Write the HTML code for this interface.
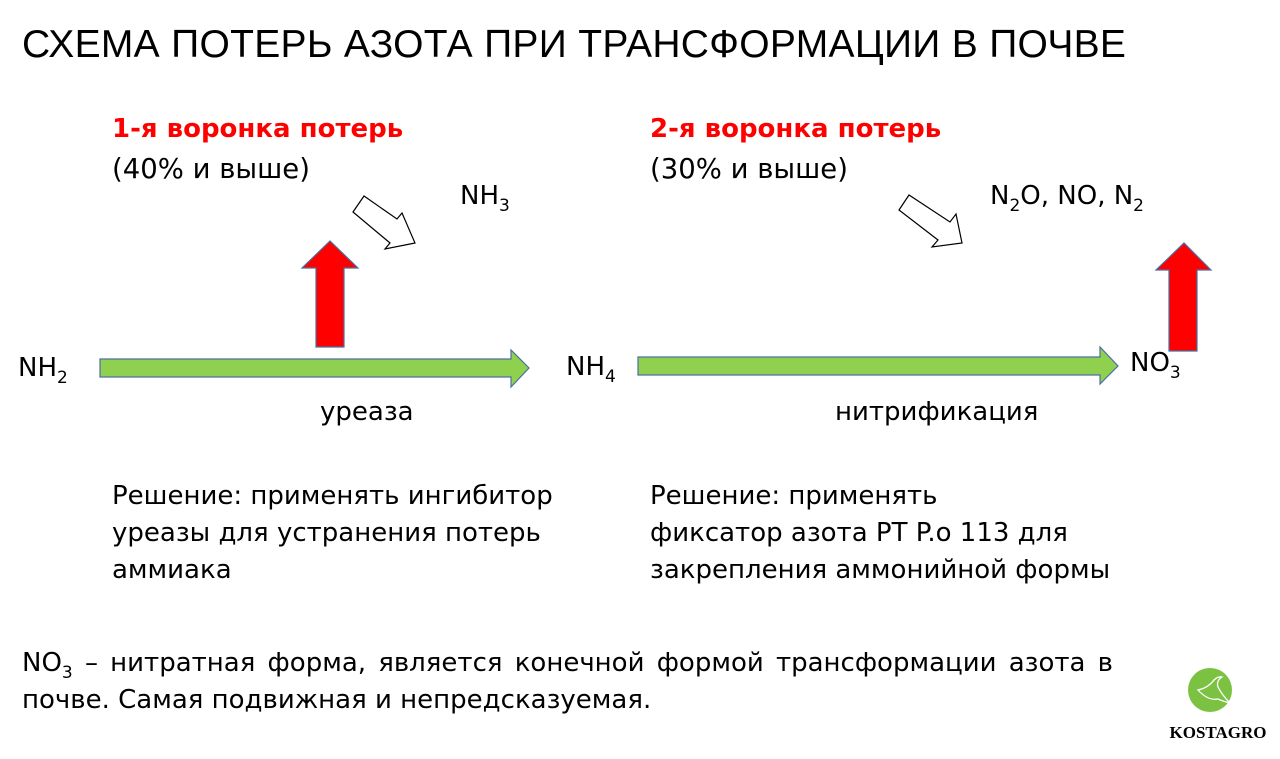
<!DOCTYPE html>
<html><head><meta charset="utf-8"><style>
body{margin:0;width:1280px;height:759px;background:#fff;position:relative;overflow:hidden;font-family:"DejaVu Sans","Liberation Sans",sans-serif;color:#000}
.t{position:absolute;white-space:nowrap;font-size:26px;line-height:1}
sub{font-size:17px;vertical-align:-7px;line-height:0}
</style></head><body>
<div class="t" style="left:22px;top:25px;font-size:39px;font-family:'Liberation Sans',sans-serif;letter-spacing:0.3px">СХЕМА ПОТЕРЬ АЗОТА ПРИ ТРАНСФОРМАЦИИ В ПОЧВЕ</div>
<div class="t" style="left:112px;top:116px;color:#f00;font-weight:bold;font-size:26px">1-я воронка потерь</div>
<div class="t" style="left:112px;top:156px;font-size:27.5px">(40% и выше)</div>
<div class="t" style="left:650px;top:116px;color:#f00;font-weight:bold;font-size:26px">2-я воронка потерь</div>
<div class="t" style="left:650px;top:156px;font-size:27.5px">(30% и выше)</div>
<div class="t" style="left:460px;top:183px;font-size:26px">NH<sub>3</sub></div>
<div class="t" style="left:990px;top:183px;font-size:26px">N<sub>2</sub>O, NO, N<sub>2</sub></div>
<div class="t" style="left:18px;top:355px;font-size:26px">NH<sub>2</sub></div>
<div class="t" style="left:566px;top:354px;font-size:26px">NH<sub>4</sub></div>
<div class="t" style="left:1130px;top:350px;font-size:26px">NO<sub>3</sub></div>
<div class="t" style="left:320px;top:399px">уреаза</div>
<div class="t" style="left:835px;top:399px">нитрификация</div>
<div class="t" style="left:112px;top:478px;line-height:37px">Решение: применять ингибитор<br>уреазы для устранения потерь<br>аммиака</div>
<div class="t" style="left:650px;top:478px;line-height:37px">Решение: применять<br>фиксатор азота PT P.o 113 для<br>закрепления аммонийной формы</div>
<div class="t" style="left:22px;top:650px;width:1091px;white-space:normal;text-align:justify;text-align-last:justify">NO<sub>3</sub> – нитратная форма, является конечной формой трансформации азота в</div>
<div class="t" style="left:22px;top:687px">почве. Самая подвижная и непредсказуемая.</div>
<svg width="1280" height="759" style="position:absolute;left:0;top:0">
<g stroke="#4a6fa5" stroke-width="1.2">
<polygon fill="#8fd14f" points="100,359 511,359 511,350 529,368 511,387 511,377 100,377"/>
<polygon fill="#8fd14f" points="638,357 1100,357 1100,347 1118,366 1100,384 1100,375 638,375"/>
<polygon fill="#f00" points="316,347 316,268 302,268 330,241 358,268 344,268 344,347"/>
<polygon fill="#f00" points="1169,351 1169,270 1156,270 1184,243 1211,270 1197,270 1197,351"/>
</g>
<g fill="#fff" stroke="#000" stroke-width="1.2">
<polygon points="353,212 364,196 397,219 402,213 415,243 385,249 390,243"/>
<polygon points="899,210 909,195 950,222 956,214 962,243 932,247 938,240"/>
</g>
<circle cx="1210" cy="690" r="22" fill="#7cc242"/>
<path d="M1198,690 q10,-2 16,-10 q4,-4 8,-3 q-6,4 -4,10 q4,8 12,16 q-8,-2 -12,-4 q-10,2 -20,-9z" fill="none" stroke="#fff" stroke-width="1.3"/>
<text x="1218" y="738" font-family="Liberation Serif,serif" font-weight="bold" font-size="17" text-anchor="middle">KOSTAGRO</text>
</svg>
</body></html>
